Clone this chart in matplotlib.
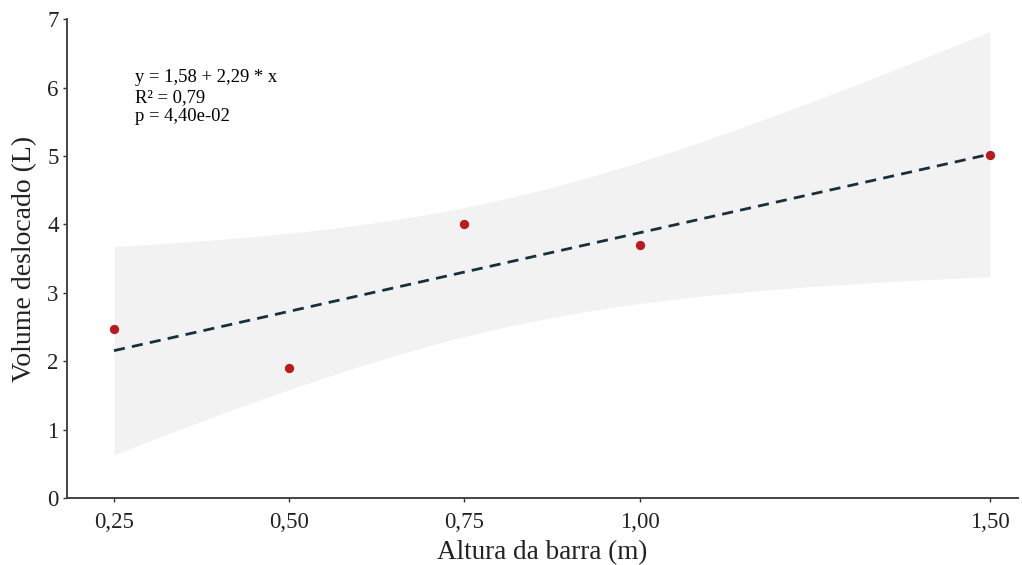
import numpy as np
import matplotlib
matplotlib.use("Agg")
from matplotlib import pyplot as plt

plt.rcParams['font.family'] = ['Liberation Serif', 'DejaVu Serif']

# altura da barra (m) x volume deslocado (L)
altura = np.array([0.25, 0.50, 0.75, 1.00, 1.50])
volume = np.array([2.47, 1.90, 4.00, 3.70, 5.02])
xticks = [0.25, 0.50, 0.75, 1.00, 1.50]
xtick_labels = ['0,25', '0,50', '0,75', '1,00', '1,50']
t_975_df3 = 3.182446

# ajuste linear
n = len(altura)
b1, b0 = np.polyfit(altura, volume, 1)
resid = volume - (b0 + b1 * altura)
s = np.sqrt(np.sum(resid ** 2) / (n - 2))
sxx = np.sum((altura - altura.mean()) ** 2)

xs = np.linspace(altura.min(), altura.max(), 100)
ys = b0 + b1 * xs
se = s * np.sqrt(1.0 / n + (xs - altura.mean()) ** 2 / sxx)
lo = ys - t_975_df3 * se
hi = ys + t_975_df3 * se

fig = plt.figure(figsize=(10.22, 5.65), dpi=100)
ax = fig.add_axes([0.0656, 0.1186, 0.9304, 0.8474])

ax.fill_between(xs, lo, hi, color='#f3f2f3', lw=0, zorder=1)
ax.plot(xs, ys, ls=(0, (4, 2.6)), color='#16303c', lw=2.0, zorder=2)
ax.scatter(altura, volume, s=45, color='#b81c1c', zorder=3, lw=0)

ax.text(0.28, 6.27, 'y = 1,58 + 2,29 * x\nR² = 0,79\np = 4,40e-02',
        fontsize=13.4, va='top', ha='left', linespacing=1.2)

ax.set_xlim(0.183, 1.54)
ax.set_ylim(0, 7)
ax.set_xticks(xticks)
ax.set_xticklabels(xtick_labels)
ax.set_yticks(range(0, 8))
ax.tick_params(labelsize=16.5, length=3, width=1, color='#333333', labelcolor='#222222', pad=3)
ax.tick_params(axis='x', pad=7)
for side in ['top', 'right']:
    ax.spines[side].set_visible(False)
for side in ['left', 'bottom']:
    ax.spines[side].set_color('#444444')
    ax.spines[side].set_linewidth(1.4)

ax.set_xlabel('Altura da barra (m)', fontsize=19.5, color='#222222', labelpad=5)
ax.set_ylabel('Volume deslocado (L)', fontsize=20, color='#222222', labelpad=7)

fig.savefig('out.png', dpi=100)
